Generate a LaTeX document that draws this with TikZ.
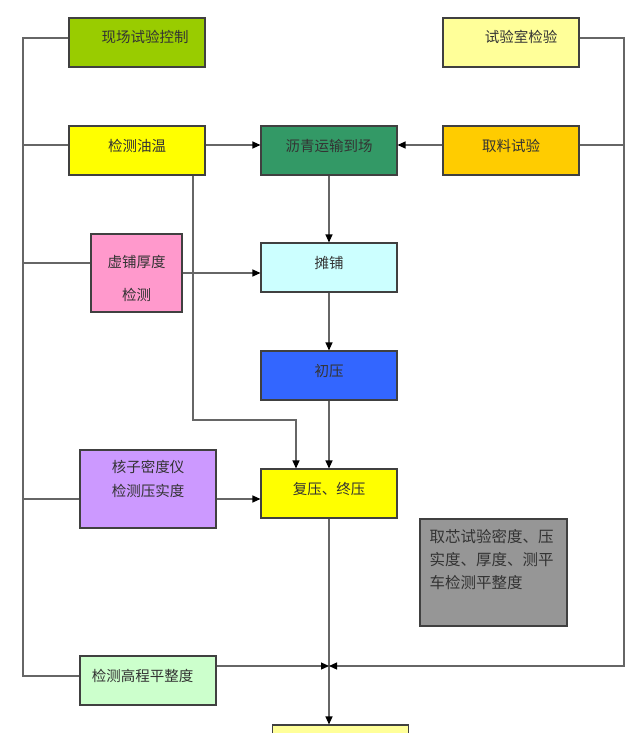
\documentclass[tikz,border=0pt]{standalone}
\usepackage{fontspec}
\newfontfamily\cjk{Noto Sans CJK SC}
\usetikzlibrary{arrows.meta}

\definecolor{ctrlgreen}{HTML}{99CC00}
\definecolor{paleyellow}{HTML}{FFFF99}
\definecolor{pureyellow}{HTML}{FFFF00}
\definecolor{truckgreen}{HTML}{339966}
\definecolor{sampleorange}{HTML}{FFCC00}
\definecolor{pinkbox}{HTML}{FF99CC}
\definecolor{palecyan}{HTML}{CCFFFF}
\definecolor{rollblue}{HTML}{3366FF}
\definecolor{violetbox}{HTML}{CC99FF}
\definecolor{coregray}{HTML}{969696}
\definecolor{palegreen}{HTML}{CCFFCC}

\begin{document}
\begin{tikzpicture}[x=1pt, y=-1pt, >={Triangle[length=8pt, width=7pt, color=black]},
    box/.style={draw=black!75, line width=1.1pt, inner sep=0pt,
        minimum width=136pt, minimum height=49pt},
    txt/.style={font=\cjk\fontsize{14.5}{17}\selectfont, text=black!80},
    onetxt/.style={box, txt, text height=12pt, text depth=11pt},
    link/.style={draw=black!60, line width=1.2pt}]
    \useasboundingbox (0,0) rectangle (640,733);

    % --- left column: field checks ---
    \node[onetxt, fill=ctrlgreen] (ctrl) at (137,42.5) {\hspace*{16pt}现场试验控制};
    \node[onetxt, fill=pureyellow] (oiltemp) at (137,150.5) {检测油温};
    \node[box, fill=pinkbox, minimum width=91pt, minimum height=78pt,
        label={[txt, align=center, yshift=-5.5pt]center:虚铺厚度\\[16pt]检测}] (loosechk) at (136.5,273) {};
    \node[box, fill=violetbox, minimum height=78pt,
        label={[txt, align=center, yshift=10pt]center:核子密度仪\\[7pt]检测压实度}] (density) at (148,489) {};
    \node[onetxt, fill=palegreen] (levelchk) at (148,680.5) {检测高程平整度\hspace*{11pt}};

    % --- middle column: paving steps ---
    \node[onetxt, fill=truckgreen] (arrive) at (329,150.5) {沥青运输到场};
    \node[onetxt, fill=palecyan] (pave) at (329,267.5) {摊铺};
    \node[onetxt, fill=rollblue] (initroll) at (329,375.5) {初压};
    \node[onetxt, fill=pureyellow] (finalroll) at (329,493.5) {复压、终压};
    \node[box, fill=paleyellow] (nextstep) at (340.5,749.5) {};

    % --- right column: lab tests ---
    \node[onetxt, fill=paleyellow] (lab) at (511,42.5) {\hspace*{20pt}试验室检验};
    \node[onetxt, fill=sampleorange] (sample) at (511,150.5) {取料试验};
    \node[box, fill=coregray, minimum width=147pt, minimum height=107pt,
        label={[txt, font=\cjk\fontsize{15.5}{23}\selectfont, align=left, anchor=north west,
            inner sep=0pt, xshift=10pt, yshift=-10.5pt]north west:取芯试验密度、压\\实度、厚度、测平\\车检测平整度}] (coretest) at (493.5,572.5) {};

    % bus lines and bends
    \coordinate (lbus) at (23,676);
    \coordinate (rbus) at (624,666);
    \coordinate (merge) at (329,666);
    \coordinate (oilbend) at (193,420);

    % left bus
    \draw[link] ([yshift=4.5pt]ctrl.west) -| (lbus) -- (lbus -| levelchk.west);
    \draw[link] ([yshift=5.5pt]oiltemp.west) -- ([yshift=5.5pt]oiltemp.west -| lbus);
    \draw[link] ([yshift=10pt]loosechk.west) -- ([yshift=10pt]loosechk.west -| lbus);
    \draw[link] ([yshift=-10pt]density.west) -- ([yshift=-10pt]density.west -| lbus);

    % feeds into the main chain
    \draw[link,->] ([yshift=5.5pt]oiltemp.east) -- ([yshift=5.5pt]arrive.west);
    \draw[link,->] ([yshift=5.5pt]sample.west) -- ([yshift=5.5pt]arrive.east);
    \draw[link,->] (loosechk.east) -- (loosechk.east -| pave.west);
    \draw[link,->] ([yshift=-10pt]density.east) -- ([yshift=-10pt]density.east -| finalroll.west);
    \draw[link,->] (oilbend |- oiltemp.south) -- (oilbend) -| ([xshift=-33pt]finalroll.north);

    % main chain
    \draw[link,->] (arrive) -- (pave);
    \draw[link,->] (pave) -- (initroll);
    \draw[link,->] (initroll) -- (finalroll);
    \draw[link,->] (finalroll.south) -- (finalroll.south |- nextstep.north);

    % right bus
    \draw[link,->] ([yshift=4.5pt]lab.east) -| (rbus) -- (merge);
    \draw[link] ([yshift=5.5pt]sample.east) -- ([yshift=5.5pt]sample.east -| rbus);
    \draw[link,->] (levelchk.east |- merge) -- (merge);
\end{tikzpicture}
\end{document}
